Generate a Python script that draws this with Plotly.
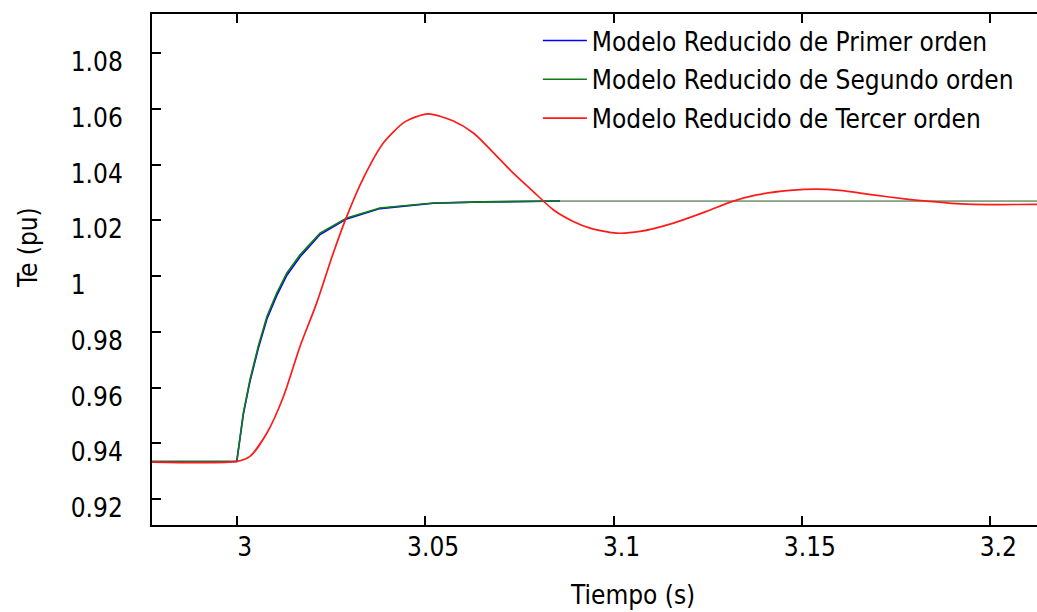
import plotly.graph_objects as go

# ---- data ----
t_primer = [2.97, 3.0000, 3.00175, 3.0035, 3.0057, 3.0080, 3.0106, 3.0133, 3.0168,
            3.0221, 3.0292, 3.0380, 3.0522, 3.0654, 3.0858]
te_primer = [0.9335, 0.9335, 0.9505, 0.9622, 0.9740, 0.9846, 0.9930, 1.0003, 1.0069,
             1.0149, 1.0205, 1.0242, 1.0261, 1.0266, 1.0269]

t_segundo = [2.97, 3.0000, 3.00175, 3.0035, 3.0057, 3.0080, 3.0106, 3.0133, 3.0168,
             3.0221, 3.0292, 3.0380, 3.0522, 3.0654, 3.0858]
te_segundo = [0.9335, 0.9335, 0.9509, 0.9628, 0.9748, 0.9855, 0.9939, 1.0011, 1.0076,
              1.0154, 1.0208, 1.0244, 1.0262, 1.0266, 1.0269]

t_segundo_cont = [3.0858, 3.215]
te_segundo_cont = [1.0269, 1.0269]

t_tercer = [2.97, 3.0000, 3.0035, 3.0080, 3.0124, 3.0168, 3.0212, 3.0256, 3.0292, 3.0336,
            3.0389, 3.0447, 3.0508, 3.0575, 3.0628, 3.0681, 3.0734, 3.0787, 3.0840, 3.0893,
            3.0938, 3.1008, 3.1070, 3.1159, 3.1247, 3.1314, 3.1380, 3.1468, 3.1539, 3.1601,
            3.1689, 3.1778, 3.1831, 3.1911, 3.1955, 3.215]
te_tercer = [0.9335, 0.9335, 0.9353, 0.9437, 0.9568, 0.9748, 0.9903, 1.0082, 1.0214, 1.0351,
             1.0477, 1.0554, 1.0582, 1.0556, 1.0513, 1.0443, 1.0369, 1.0303, 1.0238, 1.0196,
             1.0172, 1.0154, 1.0160, 1.0190, 1.0232, 1.0267, 1.0291, 1.0307, 1.0312, 1.0307,
             1.0291, 1.0276, 1.0269, 1.0260, 1.0257, 1.0257]

y_tickvals = [0.92, 0.94, 0.96, 0.98, 1.00, 1.02, 1.04, 1.06, 1.08]
y_ticktext = ["0.92", "0.94", "0.96", "0.98", "1\u2008\u2007\u2007", "1.02", "1.04", "1.06", "1.08"]
x_tickvals = [3.0, 3.05, 3.1, 3.15, 3.2]
x_ticktext = ["3", "3.05", "3.1", "3.15", "3.2"]

names = ["Modelo Reducido de Primer orden",
         "Modelo Reducido de Segundo orden",
         "Modelo Reducido de Tercer orden"]

FONT = "DejaVu Sans Condensed, Open Sans, Noto Sans, sans-serif"
FS = 26

fig = go.Figure()
fig.add_trace(go.Scatter(x=t_primer, y=te_primer, mode="lines", name=names[0],
                         legendgroup="g1",
                         line=dict(color="#0000ff", width=1.6)))
fig.add_trace(go.Scatter(x=t_segundo, y=te_segundo, mode="lines", name=names[1],
                         legendgroup="g2",
                         line=dict(color="#107a10", width=1.6)))
fig.add_trace(go.Scatter(x=t_segundo_cont, y=te_segundo_cont, mode="lines", showlegend=False,
                         legendgroup="g2",
                         line=dict(color="#1f5a1f", width=1)))
fig.add_trace(go.Scatter(x=t_tercer, y=te_tercer, mode="lines", name=names[2],
                         legendgroup="g3",
                         line=dict(color="#ff1a1a", width=1.7, shape="spline", smoothing=0.7)))

fig.update_layout(
    width=1037, height=612,
    margin=dict(l=152, r=0, t=14, b=87),
    paper_bgcolor="white", plot_bgcolor="white",
    font=dict(family=FONT, size=FS, color="black"),
    showlegend=True,
    legend=dict(x=0.436, y=0.994, xanchor="left", yanchor="top",
                bgcolor="rgba(0,0,0,0)", borderwidth=0,
                font=dict(size=FS), itemwidth=44, tracegroupgap=2),
    xaxis=dict(range=[2.9775, 3.2124], tickvals=x_tickvals, ticktext=x_ticktext,
               showgrid=False, zeroline=False, showline=True, linecolor="black",
               linewidth=2, ticks="inside", ticklen=9, tickwidth=1.5, tickcolor="black",
               mirror="ticks", ticklabelshift=8, ticklabelstandoff=-2,
               tickfont=dict(size=FS)),
    yaxis=dict(range=[0.9107, 1.094], tickvals=y_tickvals, ticktext=y_ticktext,
               showgrid=False, zeroline=False, showline=True, linecolor="black",
               linewidth=2, ticks="inside", ticklen=9, tickwidth=1.5, tickcolor="black",
               ticklabelshift=9, ticklabelstandoff=22, tickfont=dict(size=FS)),
    annotations=[
        dict(text="Tiempo (s)", xref="paper", yref="paper", x=0.5424, y=-0.1703,
             xanchor="center", yanchor="bottom", showarrow=False, font=dict(size=FS)),
        dict(text="Te (pu)", xref="paper", yref="paper", x=-0.1402, y=0.544,
             xanchor="center", yanchor="middle", textangle=-90, showarrow=False,
             font=dict(size=FS)),
    ],
)

fig.write_html("out.html")
